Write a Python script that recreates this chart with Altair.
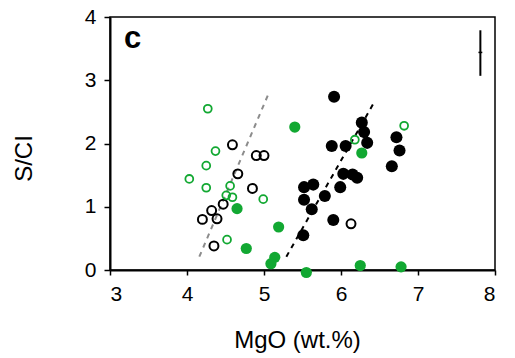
import altair as alt
import pandas as pd

# ---- data ----
black_open_x = [4.59, 4.66, 4.90, 5.00, 4.85, 4.47, 4.32, 4.20, 4.39, 4.35, 6.13]
black_open_y = [1.98, 1.52, 1.81, 1.81, 1.29, 1.04, 0.94, 0.80, 0.81, 0.38, 0.73]

green_open_x = [4.27, 4.37, 4.25, 4.03, 4.25, 4.56, 4.51, 4.59, 4.99, 4.52, 6.18, 6.82]
green_open_y = [2.55, 1.88, 1.65, 1.44, 1.30, 1.33, 1.18, 1.15, 1.12, 0.48, 2.06, 2.28]

green_filled_x = [5.40, 4.65, 5.19, 4.77, 5.14, 5.09, 5.55, 6.27, 6.25, 6.78]
green_filled_y = [2.26, 0.97, 0.68, 0.34, 0.20, 0.10, -0.04, 1.85, 0.07, 0.05]

black_filled_x = [5.91, 6.27, 6.30, 6.34, 5.88, 6.06, 6.72, 6.76, 6.66, 6.03,
                  6.15, 6.21, 5.99, 5.52, 5.64, 5.79, 5.52, 5.62, 5.90, 5.51]
black_filled_y = [2.74, 2.33, 2.18, 2.01, 1.96, 1.96, 2.10, 1.89, 1.64, 1.52,
                  1.51, 1.46, 1.31, 1.31, 1.35, 1.17, 1.11, 0.96, 0.79, 0.55]

gray_trend_x = [4.16, 5.06]
gray_trend_y = [0.21, 2.79]
black_trend_x = [5.29, 6.43]
black_trend_y = [0.21, 2.65]

err_x = [7.81]
err_lo = [3.07]
err_hi = [3.79]
err_mid = [3.44]
err_tick_half = 0.025

x_ticks = [3, 4, 5, 6, 7, 8]
y_ticks = [0, 0.5, 1, 1.5, 2, 2.5, 3, 3.5, 4]

GREEN = "#12a832"

# ---- tables ----
bo = pd.DataFrame({"x": black_open_x, "y": black_open_y})
go = pd.DataFrame({"x": green_open_x, "y": green_open_y})
gf = pd.DataFrame({"x": green_filled_x, "y": green_filled_y})
bf = pd.DataFrame({"x": black_filled_x, "y": black_filled_y})
gt = pd.DataFrame({"x": gray_trend_x, "y": gray_trend_y})
bt = pd.DataFrame({"x": black_trend_x, "y": black_trend_y})
ev = pd.DataFrame({"x": err_x, "lo": err_lo, "hi": err_hi})
eh = pd.DataFrame({"x": [err_x[0] - err_tick_half], "x2": [err_x[0] + err_tick_half], "y": err_mid})

xscale = alt.Scale(domain=[3, 8], nice=False, zero=False)
yscale = alt.Scale(domain=[0, 4], nice=False, zero=False)

xaxis = alt.Axis(values=x_ticks, title="MgO (wt.%)", grid=False, format="d",
                 tickSize=5, labelPadding=8, titlePadding=24, titleX=187)
yaxis = alt.Axis(values=y_ticks, title="S/CI", grid=False,
                 labelExpr="datum.value % 1 == 0 ? format(datum.value, 'd') : ''",
                 tickSize=6, labelPadding=8, titlePadding=48, titleY=141)

X = alt.X("x:Q", scale=xscale, axis=xaxis)
Y = alt.Y("y:Q", scale=yscale, axis=yaxis)
Xn = alt.X("x:Q", scale=xscale)
Yn = alt.Y("y:Q", scale=yscale)

gray_line = alt.Chart(gt).mark_line(color="#8c8c8c", strokeDash=[5, 5], strokeWidth=2).encode(x=X, y=Y)
black_line = alt.Chart(bt).mark_line(color="black", strokeDash=[5, 5], strokeWidth=2).encode(x=Xn, y=Yn)

p_bo = alt.Chart(bo).mark_point(shape="circle", filled=False, color="black", strokeWidth=2, size=80, opacity=1).encode(x=Xn, y=Yn)
p_go = alt.Chart(go).mark_point(shape="circle", filled=False, color=GREEN, strokeWidth=1.8, size=62, opacity=1).encode(x=Xn, y=Yn)
p_gf = alt.Chart(gf).mark_point(shape="circle", filled=True, color=GREEN, size=125, opacity=1).encode(x=Xn, y=Yn)
p_bf = alt.Chart(bf).mark_point(shape="circle", filled=True, color="black", size=145, opacity=1).encode(x=Xn, y=Yn)

err_v = alt.Chart(ev).mark_rule(color="black", strokeWidth=2).encode(x=Xn, y=alt.Y("lo:Q", scale=yscale), y2="hi:Q")
err_h = alt.Chart(eh).mark_rule(color="black", strokeWidth=1.5).encode(x=Xn, x2="x2:Q", y=Yn)

label = alt.Chart(pd.DataFrame({"t": ["c"]})).mark_text(
    text="c", fontSize=31, fontWeight="bold", font="Liberation Sans", align="left", baseline="middle", color="black"
).encode(x=alt.value(14), y=alt.value(22))

chart = alt.layer(gray_line, black_line, p_bo, p_go, p_gf, p_bf, err_v, err_h, label).properties(
    width=385, height=253,
    autosize=alt.AutoSizeParams(type="none"),
    padding={"left": 110, "top": 17, "right": 20, "bottom": 88},
    background="white",
).configure_view(stroke="black", strokeWidth=1.5).configure_axis(
    domainColor="black", domainWidth=2, tickColor="black", tickWidth=1.5,
    labelFont="Liberation Sans", titleFont="Liberation Sans",
    labelFontSize=21, titleFontSize=24, labelColor="black", titleColor="black",
    titleFontWeight="normal",
)

chart.save("out.html", embed_options={"renderer": "svg", "actions": False})
